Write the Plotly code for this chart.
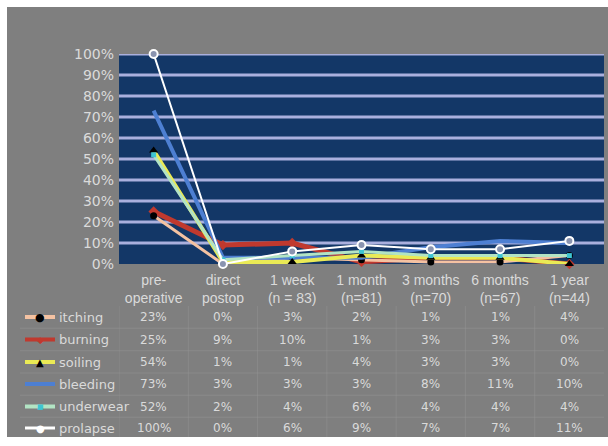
import plotly.graph_objects as go

categories = ["pre-<br>operative", "direct<br>postop", "1 week<br>(n = 83)", "1 month<br>(n=81)",
              "3 months<br>(n=70)", "6 months<br>(n=67)", "1 year<br>(n=44)"]
itching = [23, 0, 3, 2, 1, 1, 4]
burning = [25, 9, 10, 1, 3, 3, 0]
soiling = [54, 1, 1, 4, 3, 3, 0]
bleeding = [73, 3, 3, 3, 8, 11, 10]
underwear = [52, 2, 4, 6, 4, 4, 4]
prolapse = [100, 0, 6, 9, 7, 7, 11]
y_ticks = list(range(0, 101, 10))
y_labels = [f"{v}%" for v in y_ticks]

W, H = 608, 446
L, R, T, B = 119, 604, 54, 264  # plot area in px


def px(x):
    return (x - L) / (R - L)


def py(y):
    return (B - y) / (B - T)


series = [
    ("burning", burning, "#c0392e", 5, dict(symbol="diamond", size=8, color="#c0392e")),
    ("itching", itching, "#f4c2a2", 3, dict(symbol="circle", size=7, color="#000000")),
    ("bleeding", bleeding, "#4d7fd2", 4, None),
    ("soiling", soiling, "#eaea55", 4, dict(symbol="triangle-up", size=8, color="#000000")),
    ("underwear", underwear, "#b2e4c4", 3, dict(symbol="square", size=5, color="#3ec4d2")),
    ("prolapse", prolapse, "#ffffff", 2, dict(symbol="circle", size=8, color="#8a94b0",
                                             line=dict(color="#ffffff", width=2))),
]

xs = list(range(len(categories)))
fig = go.Figure()
for name, vals, col, w, mk in series:
    fig.add_trace(go.Scatter(
        x=xs, y=vals, name=name, mode="lines+markers" if mk else "lines",
        line=dict(color=col, width=w), marker=mk if mk else None, cliponaxis=False,
        showlegend=False))

text_col = "#dadada"
font_main = "DejaVu Sans"
shapes = []
annotations = []

# horizontal gridlines (not at 0)
for v in y_ticks[1:]:
    shapes.append(dict(type="line", xref="paper", yref="y", x0=0, x1=1, y0=v, y1=v,
                       line=dict(color="#aab0de", width=3), layer="below"))

# white border
for x0, x1, y0, y1 in [(0, 7, 0, H), (0, W, 0, 7), (0, W, 437, H)]:
    shapes.append(dict(type="rect", xref="paper", yref="paper", x0=px(x0), x1=px(x1),
                       y0=py(y0), y1=py(y1), fillcolor="#ffffff", line=dict(width=0),
                       layer="above"))

# faint table grid
grid_col = "rgba(150,150,150,0.45)"
row_order = [("itching", itching), ("burning", burning), ("soiling", soiling),
             ("bleeding", bleeding), ("underwear", underwear), ("prolapse", prolapse)]
row_y = [317, 339.5, 362, 384, 406.5, 428]
for i in range(len(categories)):
    shapes.append(dict(type="line", xref="x", yref="paper", x0=i - 0.5, x1=i - 0.5,
                       y0=py(306), y1=py(437), line=dict(color=grid_col, width=1)))
for k in range(len(row_y) - 1):
    yy = (row_y[k] + row_y[k + 1]) / 2
    shapes.append(dict(type="line", xref="paper", yref="paper", x0=px(20), x1=1,
                       y0=py(yy), y1=py(yy), line=dict(color=grid_col, width=1)))

style = {s[0]: s for s in series}
for (name, vals), yy in zip(row_order, row_y):
    _, _, col, w, mk = style[name]
    shapes.append(dict(type="line", xref="paper", yref="paper", x0=px(25), x1=px(55),
                       y0=py(yy), y1=py(yy), line=dict(color=col, width=min(w + 1, 4))))
    annotations.append(dict(xref="paper", yref="paper", x=px(57), y=py(yy), text=name,
                            showarrow=False, xanchor="left", yanchor="middle",
                            font=dict(family=font_main, size=13, color=text_col)))
    for i, v in enumerate(vals):
        annotations.append(dict(xref="x", yref="paper", x=i, y=py(yy), text=f"{v}%",
                                showarrow=False, xanchor="center", yanchor="middle",
                                font=dict(family=font_main, size=12, color=text_col)))

# legend key markers
key_marks = {"itching": ("●", "#000000", 11), "burning": ("◆", "#c0392e", 9),
             "soiling": ("▲", "#000000", 10), "underwear": ("■", "#3ec4d2", 7),
             "prolapse": ("●", "#ffffff", 10)}
for (name, _), yy in zip(row_order, row_y):
    if name in key_marks:
        g, c, s = key_marks[name]
        annotations.append(dict(xref="paper", yref="paper", x=px(40), y=py(yy), text=g,
                                showarrow=False, xanchor="center", yanchor="middle",
                                font=dict(family=font_main, size=s, color=c)))

fig.update_layout(
    width=W, height=H,
    margin=dict(l=L, r=W - R, t=T, b=H - B, pad=0),
    paper_bgcolor="#7f7f7f", plot_bgcolor="#133767",
    shapes=shapes, annotations=annotations,
    xaxis=dict(range=[-0.5, 6.5], tickvals=xs, ticktext=categories, showgrid=False,
               zeroline=False, showline=False, ticks="", ticklabelstandoff=6,
               tickfont=dict(family="Liberation Sans Narrow, Arial", size=14, color=text_col)),
    yaxis=dict(range=[0, 100], tickvals=y_ticks, ticktext=y_labels, showgrid=False,
               zeroline=False, showline=False, ticks="", ticklabelstandoff=4,
               tickfont=dict(family=font_main, size=14, color=text_col)),
)

fig.write_html("out.html")
